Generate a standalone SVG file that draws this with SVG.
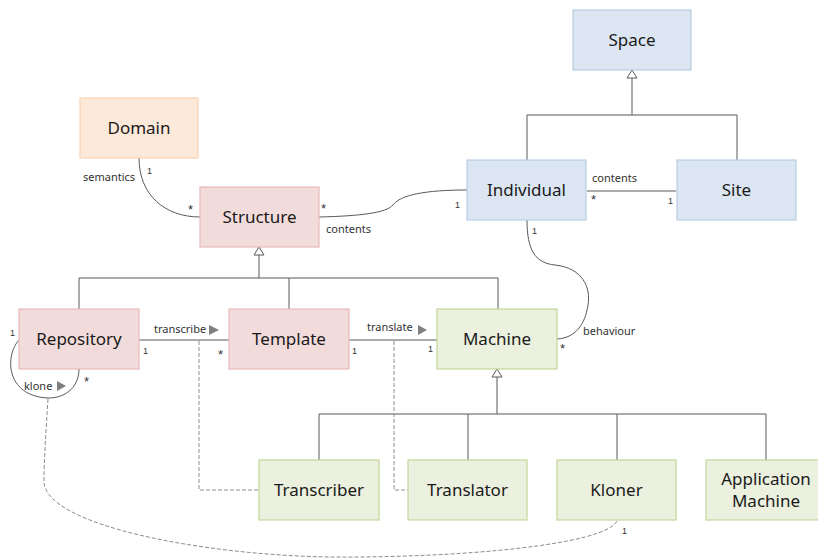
<svg xmlns="http://www.w3.org/2000/svg" width="818" height="558" viewBox="0 0 818 558">
<style>
.box{stroke-width:1.2}
.blue{fill:#dce6f2;stroke:#b9cde5}
.orange{fill:#fde9d9;stroke:#fbd4b4}
.red{fill:#f2dcdb;stroke:#e6b9b8}
.green{fill:#ebf1de;stroke:#c3d69b}
.t{font-family:"Noto Sans","Open Sans",sans-serif;font-size:17px;fill:#1a1a1a;text-anchor:middle}
.l{font-family:"Noto Sans","Open Sans",sans-serif;font-size:11px;fill:#333}
.m{font-family:"Liberation Sans",Arial,sans-serif;font-size:9px;fill:#333}
.s{font-family:"Liberation Sans",Arial,sans-serif;font-size:13px;fill:#333}
.ln{fill:none;stroke:#595959;stroke-width:1}
.ds{fill:none;stroke:#8c8c8c;stroke-width:1;stroke-dasharray:4,2}
.gen{fill:#fff;stroke:#595959;stroke-width:1}
.dir{fill:#7f7f7f}
</style>
<g id="connectors">
<!-- generalizations -->
<path class="ln" d="M632,78 V115 M527,115 H737 M527,115 V160 M737,115 V160"/>
<polygon class="gen" points="632,70 627,78 637,78"/>
<path class="ln" d="M259,255 V278 M79,278 H498 M79,278 V309 M289,278 V309 M498,278 V309"/>
<polygon class="gen" points="259,247 254,255 264,255"/>
<path class="ln" d="M497,377 V414 M319,414 H766 M319,414 V460 M468,414 V460 M617,414 V460 M766,414 V460"/>
<polygon class="gen" points="497,369 492,377 502,377"/>
<!-- associations -->
<path class="ln" d="M139,158 C139,195 165,217 200,217"/>
<path class="ln" d="M319,217 C360,216 386,213 393,205 C400,195 425,190 467,190"/>
<path class="ln" d="M587,191 H676"/>
<path class="ln" d="M527,220 C527,250 535,263 555,265 C583,268 591,288 588,305 C585,325 575,338 557,339"/>
<path class="ln" d="M139,340 H183 M183,340 H229"/>
<path class="ln" d="M349,340 H437"/>
<path class="ln" d="M19,340 C5,355 5,396 48,398 C68,398 79,385 79,369"/>
<!-- dashed -->
<path class="ds" d="M199,341 V490 H259"/>
<path class="ds" d="M394,341 V490 H408"/>
<path class="ds" d="M48,399 C46,430 44,460 44,482 C46,525 200,555 330,557 C460,558 605,545 617,521"/>
<polygon class="dir" points="209,325 219,330 209,335"/>
<polygon class="dir" points="418,325 427,330 418,335"/>
<polygon class="dir" points="57,381 66,386 57,391"/>
</g>
<g id="space"><rect class="box blue" x="573" y="10" width="118" height="60"/><text class="t" x="632" y="46">Space</text></g>
<g id="domain"><rect class="box orange" x="80" y="98" width="118" height="60"/><text class="t" x="139" y="134">Domain</text></g>
<g id="structure"><rect class="box red" x="200" y="187" width="119" height="60"/><text class="t" x="259.500" y="223">Structure</text></g>
<g id="individual"><rect class="box blue" x="467" y="160" width="119" height="60"/><text class="t" x="526.500" y="196">Individual</text></g>
<g id="site"><rect class="box blue" x="677" y="160" width="119" height="60"/><text class="t" x="736.500" y="196">Site</text></g>
<g id="repository"><rect class="box red" x="19" y="309" width="120" height="60"/><text class="t" x="79" y="345">Repository</text></g>
<g id="template"><rect class="box red" x="229" y="309" width="120" height="60"/><text class="t" x="289" y="345">Template</text></g>
<g id="machine"><rect class="box green" x="437" y="309" width="120" height="60"/><text class="t" x="497" y="345">Machine</text></g>
<g id="transcriber"><rect class="box green" x="259" y="460" width="120" height="60"/><text class="t" x="319" y="496">Transcriber</text></g>
<g id="translator"><rect class="box green" x="408" y="460" width="119" height="60"/><text class="t" x="467.500" y="496">Translator</text></g>
<g id="kloner"><rect class="box green" x="557" y="460" width="119" height="60"/><text class="t" x="616.500" y="496">Kloner</text></g>
<g id="application-machine"><rect class="box green" x="706" y="460" width="120" height="60"/><text class="t" x="766" y="485">Application</text><text class="t" x="766" y="507">Machine</text></g>
<g id="labels">
<text class="l" x="83" y="181">semantics</text>
<text class="m" x="147" y="174">1</text>
<text class="s" x="188" y="214">*</text>
<text class="s" x="321" y="213">*</text>
<text class="l" x="326" y="233">contents</text>
<text class="m" x="455" y="208">1</text>
<text class="l" x="592" y="182">contents</text>
<text class="s" x="591" y="204">*</text>
<text class="m" x="668" y="204">1</text>
<text class="m" x="532" y="234">1</text>
<text class="l" x="583" y="335">behaviour</text>
<text class="s" x="560" y="353">*</text>
<text class="l" x="154" y="333">transcribe</text>
<text class="m" x="143" y="354">1</text>
<text class="s" x="218" y="359">*</text>
<text class="l" x="367" y="331">translate</text>
<text class="m" x="352" y="354">1</text>
<text class="m" x="428" y="352">1</text>
<text class="m" x="10" y="336">1</text>
<text class="l" x="24" y="390">klone</text>
<text class="s" x="84" y="386">*</text>
<text class="m" x="622" y="534">1</text>
</g>
</svg>
